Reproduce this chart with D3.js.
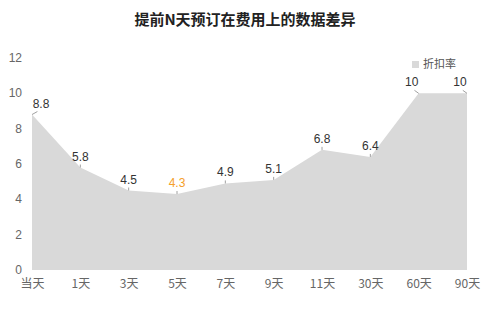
<!DOCTYPE html>
<html>
<head>
<meta charset="utf-8">
<script src="https://cdn.jsdelivr.net/npm/d3@7.9.0/dist/d3.min.js"></script>
<style>
  body { margin: 0; background: #fff; }
  svg { display: block; font-family: "Noto Sans CJK SC", "Noto Sans", sans-serif; }
</style>
</head>
<body>
<svg id="vis"></svg>
<script>
const width = 500;
const height = 318;

// data
const days = ["当天", "1天", "3天", "5天", "7天", "9天", "11天", "30天", "60天", "90天"];
const discount = [8.8, 5.8, 4.5, 4.3, 4.9, 5.1, 6.8, 6.4, 10, 10];
const yTicks = [0, 2, 4, 6, 8, 10, 12];
const highlight = "5天";

const svg = d3.select("#vis")
    .attr("width", width)
    .attr("height", height);

const x = d3.scalePoint()
    .domain(days)
    .range([32, 467]);

const y = d3.scaleLinear()
    .domain([0, 12])
    .range([270, 58]);

// title
svg.append("text")
    .attr("x", 245)
    .attr("y", 25)
    .attr("text-anchor", "middle")
    .style("font-size", "15px")
    .style("font-weight", "bold")
    .style("fill", "#222")
    .text("提前N天预订在费用上的数据差异");

// area
const area = d3.area()
    .x((d, i) => x(days[i]))
    .y0(y(0))
    .y1(d => y(d));

svg.append("path")
    .datum(discount)
    .attr("d", area)
    .attr("fill", "#d9d9d9");

// y axis
const yAxis = svg.append("g")
    .attr("transform", "translate(22,0)")
    .call(d3.axisLeft(y).tickValues(yTicks).tickSize(0).tickPadding(0));
yAxis.select(".domain").remove();
yAxis.selectAll("text")
    .attr("dy", "0.3em")
    .style("font-size", "12px")
    .style("fill", "#666")
    .style("font-family", "'Liberation Sans', sans-serif");

// x axis
const xAxis = svg.append("g")
    .attr("transform", `translate(0,${y(0)})`)
    .call(d3.axisBottom(x).tickSize(0).tickPadding(9));
xAxis.select(".domain").remove();
xAxis.selectAll("text")
    .style("font-size", "12px")
    .style("fill", "#666")
    .style("font-family", "'Noto Sans CJK SC', sans-serif");

// value labels with small leader lines
const maxVal = d3.max(discount);
const labels = svg.append("g");
discount.forEach((v, i) => {
    const px = x(days[i]);
    const py = y(v);
    let dx = 0;
    if (i === 0) dx = 9;
    else if (v === maxVal) dx = -7;
    labels.append("line")
        .attr("x1", px)
        .attr("y1", py)
        .attr("x2", px + dx * 0.6)
        .attr("y2", py - 3)
        .attr("stroke", "#888")
        .attr("stroke-width", 0.8);
    labels.append("text")
        .attr("x", px + dx)
        .attr("y", py - 7)
        .attr("text-anchor", "middle")
        .style("font-size", "12px")
        .style("font-family", "'Liberation Sans', sans-serif")
        .style("fill", days[i] === highlight ? "#f5a02a" : "#333")
        .text(v);
});

// legend
const legend = svg.append("g").attr("transform", "translate(412,61)");
legend.append("rect")
    .attr("width", 7)
    .attr("height", 7)
    .attr("fill", "#d9d9d9");
legend.append("text")
    .attr("x", 11)
    .attr("y", 7)
    .style("font-size", "11px")
    .style("fill", "#555")
    .text("折扣率");
</script>
</body>
</html>
